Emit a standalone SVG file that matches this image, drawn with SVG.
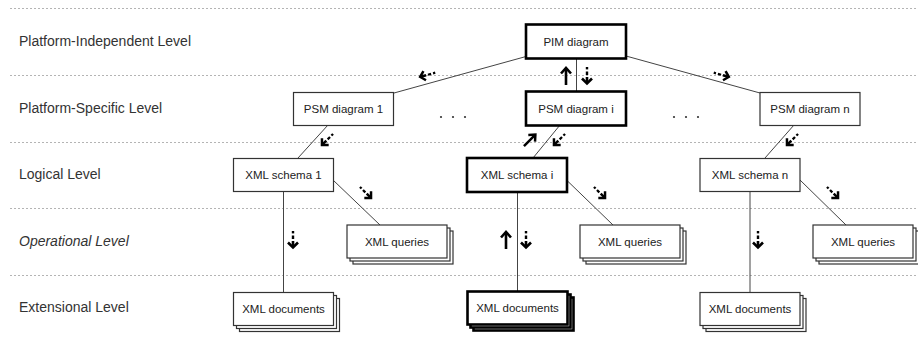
<svg xmlns="http://www.w3.org/2000/svg" xmlns:xlink="http://www.w3.org/1999/xlink" width="918" height="338" viewBox="0 0 918 338">
<style>
.sep{stroke:#b4b4b4;stroke-width:1;stroke-dasharray:2,2;fill:none}
.lvl{font-family:"Liberation Sans",Arial,sans-serif;font-size:14px;fill:#333}
.bx{fill:#fff;stroke:#333;stroke-width:1.2}
.bxb{fill:#fff;stroke:#000;stroke-width:2.6}
.t{font-family:"Liberation Sans",Arial,sans-serif;font-size:11.5px;fill:#222;text-anchor:middle}
.ln{stroke:#444;stroke-width:1;fill:none}
.ah{fill:none;stroke:#000;stroke-width:2.6;stroke-linecap:butt;stroke-linejoin:miter}
.dot{fill:#333}
</style>
<defs>
<g id="da">
<rect x="-1.2" y="-9" width="2.4" height="2.4" fill="#000"/>
<rect x="-1.2" y="-4.5" width="2.4" height="3.5" fill="#000"/>
<path class="ah" d="M0,1 L0,7"/>
<path class="ah" d="M-5,2.5 L0,7.5 L5,2.5"/>
</g>
<g id="sa">
<path class="ah" d="M0,-9 L0,8"/>
<path class="ah" d="M-5,2.5 L0,8 L5,2.5"/>
</g>
</defs>

<g id="separators">
<line class="sep" x1="10" y1="8.5" x2="918" y2="8.5"/>
<line class="sep" x1="10" y1="75.5" x2="918" y2="75.5"/>
<line class="sep" x1="10" y1="142.5" x2="918" y2="142.5"/>
<line class="sep" x1="10" y1="208.5" x2="918" y2="208.5"/>
<line class="sep" x1="10" y1="275.5" x2="918" y2="275.5"/>
</g>

<g id="levels">
<text class="lvl" x="19" y="46">Platform-Independent Level</text>
<text class="lvl" x="19" y="112.5">Platform-Specific Level</text>
<text class="lvl" x="19" y="179">Logical Level</text>
<text class="lvl" x="19" y="246" font-style="italic">Operational Level</text>
<text class="lvl" x="19" y="312">Extensional Level</text>
</g>

<g id="connectors">
<line class="ln" x1="526" y1="56.5" x2="394" y2="93"/>
<line class="ln" x1="626" y1="56" x2="760" y2="93"/>
<line class="ln" x1="576.5" y1="58" x2="576.5" y2="91"/>
<line class="ln" x1="328" y1="125" x2="298" y2="158"/>
<line class="ln" x1="560" y1="125" x2="533" y2="158"/>
<line class="ln" x1="794" y1="125" x2="765" y2="158"/>
<line class="ln" x1="333" y1="180" x2="380" y2="225"/>
<line class="ln" x1="567" y1="180.5" x2="613" y2="225"/>
<line class="ln" x1="800" y1="180" x2="846" y2="225"/>
<line class="ln" x1="283.5" y1="191" x2="283.5" y2="292"/>
<line class="ln" x1="517.5" y1="192" x2="517.5" y2="291"/>
<line class="ln" x1="750" y1="191" x2="750" y2="292"/>
<use xlink:href="#da" transform="translate(427,75) rotate(74.5) scale(0.95)"/>
<use xlink:href="#da" transform="translate(722,75) rotate(-74.5) scale(0.95)"/>
<use xlink:href="#sa" transform="translate(566,76) rotate(180)"/>
<use xlink:href="#da" transform="translate(587,76)"/>
<use xlink:href="#da" transform="translate(327,140) rotate(45) scale(0.95)"/>
<use xlink:href="#sa" transform="translate(530,140) rotate(-135) scale(0.95)"/>
<use xlink:href="#da" transform="translate(559,140) rotate(45) scale(0.95)"/>
<use xlink:href="#da" transform="translate(792,140) rotate(45) scale(0.95)"/>
<use xlink:href="#da" transform="translate(366,193) rotate(-45) scale(0.95)"/>
<use xlink:href="#da" transform="translate(600,193) rotate(-45) scale(0.95)"/>
<use xlink:href="#da" transform="translate(833,193) rotate(-45) scale(0.95)"/>
<use xlink:href="#da" transform="translate(293,240)"/>
<use xlink:href="#sa" transform="translate(506,240) rotate(180)"/>
<use xlink:href="#da" transform="translate(526,240)"/>
<use xlink:href="#da" transform="translate(758,240)"/>
</g>

<g id="ellipses">
<circle class="dot" cx="441" cy="117" r="1.1"/>
<circle class="dot" cx="453" cy="117" r="1.1"/>
<circle class="dot" cx="465" cy="117" r="1.1"/>
<circle class="dot" cx="674" cy="117" r="1.1"/>
<circle class="dot" cx="686" cy="117" r="1.1"/>
<circle class="dot" cx="698" cy="117" r="1.1"/>
</g>

<g id="pim"><rect class="bxb" x="526" y="24.5" width="100" height="34"/><text class="t" x="576" y="45.5">PIM diagram</text></g>

<g id="psm1"><rect class="bx" x="293.5" y="92.5" width="100" height="33"/><text class="t" x="343.5" y="113">PSM diagram 1</text></g>
<g id="psmi"><rect class="bxb" x="526" y="91.5" width="100" height="34"/><text class="t" x="576" y="112.5">PSM diagram i</text></g>
<g id="psmn"><rect class="bx" x="760" y="92.5" width="100" height="33"/><text class="t" x="810" y="113">PSM diagram n</text></g>

<g id="schema1"><rect class="bx" x="233.5" y="158.5" width="100" height="33"/><text class="t" x="283.5" y="179">XML schema 1</text></g>
<g id="schemai"><rect class="bxb" x="467" y="158" width="100" height="34"/><text class="t" x="517" y="179">XML schema i</text></g>
<g id="scheman"><rect class="bx" x="700" y="158.5" width="100" height="33"/><text class="t" x="750" y="179">XML schema n</text></g>

<g id="queries1">
<rect class="bx" x="353" y="231" width="100" height="33"/>
<rect class="bx" x="350" y="228" width="100" height="33"/>
<rect class="bx" x="347" y="225" width="100" height="33"/>
<text class="t" x="397" y="246">XML queries</text>
</g>
<g id="queriesi">
<rect class="bx" x="586" y="231" width="100" height="33"/>
<rect class="bx" x="583" y="228" width="100" height="33"/>
<rect class="bx" x="580" y="225" width="100" height="33"/>
<text class="t" x="630" y="246">XML queries</text>
</g>
<g id="queriesn">
<rect class="bx" x="819" y="231" width="100" height="33"/>
<rect class="bx" x="816" y="228" width="100" height="33"/>
<rect class="bx" x="813" y="225" width="100" height="33"/>
<text class="t" x="863" y="246">XML queries</text>
</g>

<g id="docs1">
<rect class="bx" x="239.5" y="298.5" width="100" height="33"/>
<rect class="bx" x="236.5" y="295.5" width="100" height="33"/>
<rect class="bx" x="233.5" y="292.5" width="100" height="33"/>
<text class="t" x="283.5" y="313">XML documents</text>
</g>
<g id="docsi">
<rect class="bxb" x="473.5" y="297.5" width="100" height="33"/>
<rect class="bxb" x="470.5" y="294.5" width="100" height="33"/>
<rect class="bxb" x="467.5" y="291.5" width="100" height="33"/>
<text class="t" x="517.5" y="312">XML documents</text>
</g>
<g id="docsn">
<rect class="bx" x="706" y="298.5" width="100" height="33"/>
<rect class="bx" x="703" y="295.5" width="100" height="33"/>
<rect class="bx" x="700" y="292.5" width="100" height="33"/>
<text class="t" x="750" y="313">XML documents</text>
</g>
</svg>
